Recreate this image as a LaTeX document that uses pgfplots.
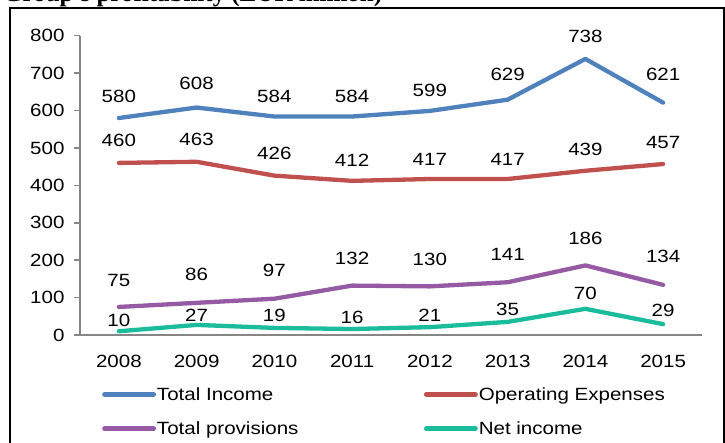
\documentclass[border=0pt]{standalone}
\usepackage{fontspec}
\setmainfont{Liberation Sans}[FakeStretch=1.16]
\newfontfamily\titlefont{Liberation Serif}
\usepackage{pgfplots}
\usepackage{pgfplotstable}
\pgfplotsset{compat=1.18}

\definecolor{cinc}{RGB}{79,129,189}
\definecolor{cexp}{RGB}{192,80,77}
\definecolor{cprov}{RGB}{150,90,165}
\definecolor{cnet}{RGB}{26,188,156}
\definecolor{axgray}{RGB}{134,134,134}

% year index, value, label offset above the point
\pgfplotstableread{
x y dy
0 580 22
1 608 24
2 584 20
3 584 20
4 599 21
5 629 25
6 738 22
7 621 28
}\tinc
\pgfplotstableread{
x y dy
0 460 23
1 463 22
2 426 22
3 412 21
4 417 20
5 417 20
6 439 21
7 457 22
}\texp
\pgfplotstableread{
x y dy
0 75 26
1 86 28
2 97 28
3 132 27
4 130 27
5 141 28
6 186 27
7 134 28
}\tprov
\pgfplotstableread{
x y dy
0 10 11
1 27 10
2 19 12
3 16 12
4 21 12
5 35 13
6 70 15
7 29 14
}\tnet

\begin{document}
\begin{tikzpicture}
\useasboundingbox (0,0) rectangle (725pt,-442pt);
\node[anchor=base west, inner sep=0pt, font=\titlefont\bfseries\fontsize{25}{28}\selectfont] at (3pt,-1.5pt) {Group's profitability (EUR million)};
\draw[line width=2pt] (10.3pt,-480pt) -- (10.3pt,-7.7pt) -- (723.5pt,-7.7pt) -- (723.5pt,-480pt);
\begin{axis}[
  at={(80pt,-335pt)}, anchor=south west,
  scale only axis, width=622pt, height=299.3pt,
  xmin=-0.5, xmax=7.5, ymin=0, ymax=800,
  axis x line=bottom, axis y line=left,
  axis line style={-, draw=axgray, line width=1.5pt},
  tick style={draw=axgray, line width=1.5pt},
  tick align=outside, major tick length=6pt,
  xtick={0,...,7},
  xticklabels={2008,2009,2010,2011,2012,2013,2014,2015},
  x tick style={draw=none},
  extra x ticks={-0.5,0.5,...,7.5}, extra x tick labels={},
  extra x tick style={tick style={draw=axgray, line width=1.5pt}},
  ytick={0,100,...,800},
  /pgf/number format/assume math mode=true,
  font=\fontsize{17.7}{20}\selectfont,
  ticklabel style={font=\fontsize{17.7}{20}\selectfont},
  xticklabel style={yshift=-11pt},
  yticklabel style={xshift=-6pt},
  clip=false,
  nodes near coords,
  nodes near coords style={anchor=center, yshift=\dy pt, font=\fontsize{17.7}{20}\selectfont, text=black},
  visualization depends on={\thisrow{dy}\as\dy},
  legend columns=2,
  legend cell align=left,
  legend style={draw=none, fill=none, at={(rel axis cs:0,0)}, anchor=north west,
    xshift=22pt, yshift=-52pt, inner sep=0pt, row sep=20pt,
    nodes={inner sep=0pt, font=\fontsize{17.7}{20}\selectfont},
    /tikz/every odd column/.append style={column sep=1pt}},
  legend image code/.code={\draw[#1, line width=4.5pt, line cap=round] (0pt,0pt) -- (49.3pt,0pt);},
  every axis plot/.append style={line width=4.3pt, line join=round, line cap=round, mark=none},
]
\addplot[cinc] table[x=x, y=y] {\tinc};
\addlegendentry{\makebox[267pt][l]{Total Income}}
\addplot[cexp] table[x=x, y=y] {\texp};
\addlegendentry{Operating Expenses}
\addplot[cprov] table[x=x, y=y] {\tprov};
\addlegendentry{\makebox[267pt][l]{Total provisions}}
\addplot[cnet] table[x=x, y=y] {\tnet};
\addlegendentry{Net income}
\end{axis}
\end{tikzpicture}
\end{document}
